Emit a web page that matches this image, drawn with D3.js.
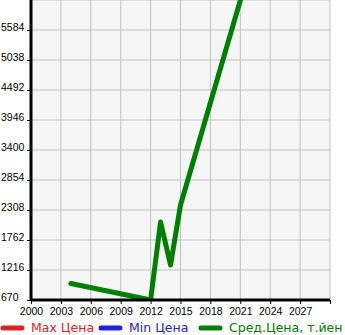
<!DOCTYPE html>
<html>
<head>
<meta charset="utf-8">
<script src="https://cdn.jsdelivr.net/npm/d3@7"></script>
<style>
  body { margin: 0; background: #fff; }
  svg { display: block; font-family: "DejaVu Sans", sans-serif; }
</style>
</head>
<body>
<div id="plot"></div>
<script>
// data
var years = [2004, 2012, 2013, 2014, 2015, 2022];
var avgPrice = [970, 670, 2090, 1307, 2399, 6742];
var yTicks = [670, 1216, 1762, 2308, 2854, 3400, 3946, 4492, 5038, 5584];
var xTicks = [2000, 2003, 2006, 2009, 2012, 2015, 2018, 2021, 2024, 2027];
var legendNames = ["Max Цена", "Min Цена", "Сред.Цена, т.йен"];
var legendColors = ["#dd2222", "#2222dd", "#008000"];

var margin = {top: 0, right: 15, bottom: 35, left: 31};
var width = 345 - margin.left - margin.right;
var height = 335 - margin.top - margin.bottom;

var svg = d3.select("#plot").append("svg")
    .attr("width", 345)
    .attr("height", 335);

var g = svg.append("g")
    .attr("transform", "translate(" + margin.left + "," + margin.top + ")");

var xScale = d3.scaleLinear()
    .domain([2000, 2030])
    .range([0, width]);

var yScale = d3.scaleLinear()
    .domain([670, 6130])
    .range([height, 0]);

// plot background
g.append("rect")
    .attr("width", width)
    .attr("height", height)
    .attr("fill", "#f6f6f6");

// grid
g.selectAll(".vgrid")
    .data(xTicks.concat([2030]))
    .enter().append("line")
    .attr("x1", function(d) { return xScale(d); })
    .attr("x2", function(d) { return xScale(d); })
    .attr("y1", 0)
    .attr("y2", height)
    .attr("stroke", "#c0c0c0")
    .attr("stroke-width", 1);

g.selectAll(".hgrid")
    .data(yTicks.concat([6130]))
    .enter().append("line")
    .attr("x1", 0)
    .attr("x2", width)
    .attr("y1", function(d) { return yScale(d); })
    .attr("y2", function(d) { return yScale(d); })
    .attr("stroke", "#c0c0c0")
    .attr("stroke-width", 1);

// clip for the line
g.append("clipPath").attr("id", "clip")
  .append("rect")
    .attr("width", width)
    .attr("height", height);

var line = d3.line()
    .x(function(d, i) { return xScale(years[i]); })
    .y(function(d) { return yScale(d); });

g.append("path")
    .datum(avgPrice)
    .attr("clip-path", "url(#clip)")
    .attr("fill", "none")
    .attr("stroke", "#008000")
    .attr("stroke-width", 5)
    .attr("stroke-linecap", "round")
    .attr("stroke-linejoin", "round")
    .attr("d", line);

// axes
var xAxis = g.append("g")
    .attr("transform", "translate(0," + height + ")")
    .call(d3.axisBottom(xScale).tickValues(xTicks.concat([2030])).tickSize(4)
        .tickFormat(function(d) { return d === 2030 ? "" : String(d); }));
xAxis.select(".domain").attr("stroke-width", 3).attr("d", "M0,0H" + width);
xAxis.selectAll("text")
    .attr("font-size", 10.5)
    .attr("fill", "#000")
    .attr("y", 15)
    .attr("dy", 0);
xAxis.selectAll(".tick line").attr("stroke", "#000");

var yAxis = g.append("g")
    .call(d3.axisLeft(yScale).tickValues(yTicks).tickSize(4)
        .tickFormat(function(d) { return String(d); }));
yAxis.select(".domain").attr("stroke-width", 3).attr("d", "M0,0V" + height);
yAxis.selectAll("text")
    .attr("font-size", 10.5)
    .attr("fill", "#000")
    .attr("text-anchor", "start")
    .attr("x", 1 - margin.left)
    .attr("dy", 0);
yAxis.selectAll(".tick line").attr("stroke", "#000");

// legend
var legendX = [0, 98, 198];
var legend = svg.append("g").attr("transform", "translate(0,328)");
legendNames.forEach(function(name, i) {
    legend.append("line")
        .attr("x1", legendX[i] + 3)
        .attr("x2", legendX[i] + 22)
        .attr("y1", 0)
        .attr("y2", 0)
        .attr("stroke", legendColors[i])
        .attr("stroke-width", 5)
        .attr("stroke-linecap", "round");
    legend.append("text")
        .attr("x", legendX[i] + 31)
        .attr("y", 0)
        .attr("dy", "0.35em")
        .attr("font-size", 12.5)
        .attr("fill", legendColors[i])
        .text(name);
});
</script>
</body>
</html>
